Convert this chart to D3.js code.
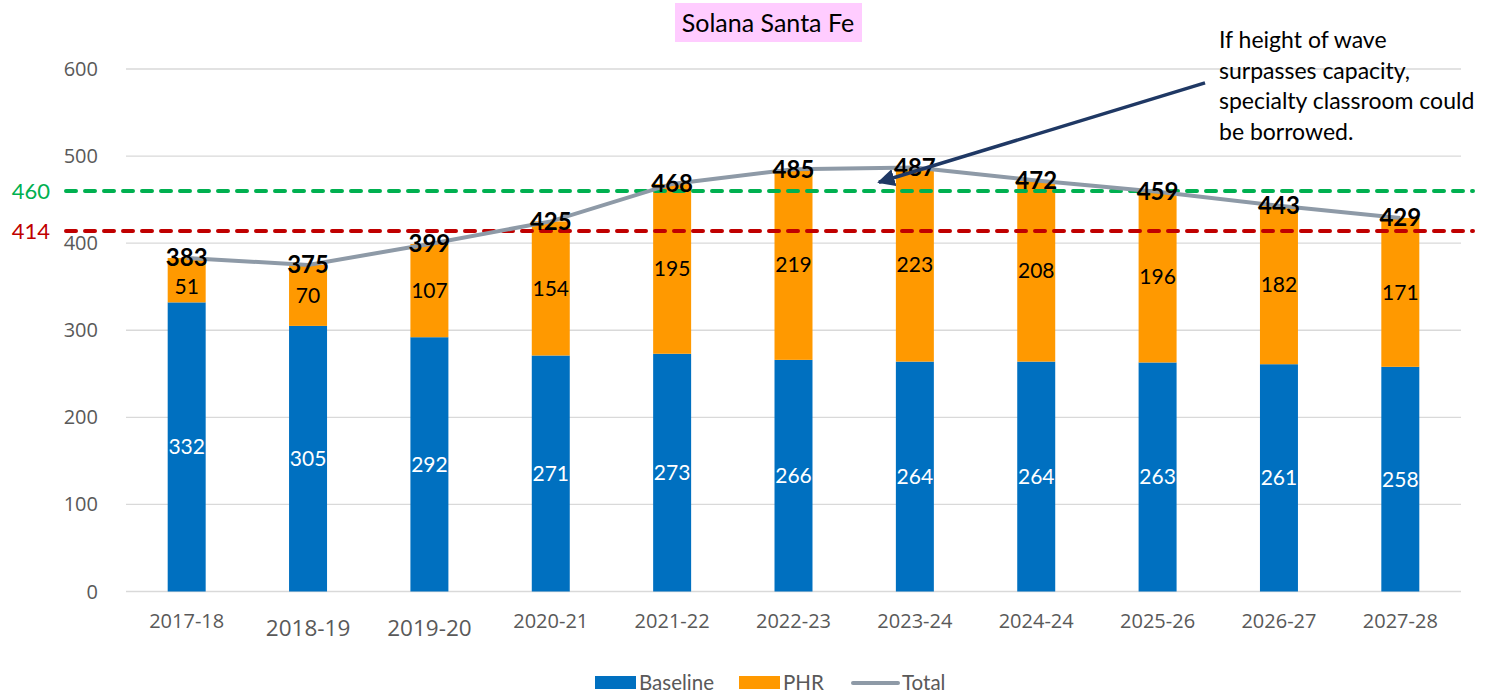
<!DOCTYPE html>
<meta charset="utf-8">
<script src="https://d3js.org/d3.v7.js"></script>
<style>
  body { margin: 0; background: #fff; }
</style>
<svg id="chart" width="1491" height="696"></svg>

<script>
    // data
    var years = ["2017-18", "2018-19", "2019-20", "2020-21", "2021-22", "2022-23",
        "2023-24", "2024-24", "2025-26", "2026-27", "2027-28"];
    var baseline = [332, 305, 292, 271, 273, 266, 264, 264, 263, 261, 258];
    var phr = [51, 70, 107, 154, 195, 219, 223, 208, 196, 182, 171];
    var total = [383, 375, 399, 425, 468, 485, 487, 472, 459, 443, 429];
    var yTicks = [0, 100, 200, 300, 400, 500, 600];
    var refLines = [
        { value: 460, color: "#00b050" },
        { value: 414, color: "#c00000" }
    ];
    var note = ["If height of wave", "surpasses capacity,", "specialty classroom could", "be borrowed."];

    var svg = d3.select("#chart");

    // plot area (window.top is taken, so prefix these)
    var pLeft = 126, pRight = 1461, pTop = 69, pBottom = 591.5;
    var sans = "Lato, 'Open Sans', sans-serif";

    var x = d3.scaleBand().domain(years).range([pLeft, pRight]).padding(0);
    var y = d3.scaleLinear().domain([0, 600]).range([pBottom, pTop]);
    var barW = x.bandwidth() * 0.313;
    var cx = d => x(d) + x.bandwidth() / 2;

    // gridlines
    svg.append("g").selectAll("line")
        .data(yTicks)
        .enter().append("line")
        .attr("x1", pLeft).attr("x2", pRight)
        .attr("y1", d => y(d)).attr("y2", d => y(d))
        .attr("stroke", "#d9d9d9")
        .attr("stroke-width", 1.3);

    // y labels
    svg.append("g").selectAll("text")
        .data(yTicks)
        .enter().append("text")
        .attr("x", 98).attr("y", d => y(d))
        .attr("dy", "0.35em")
        .attr("text-anchor", "end")
        .attr("font-family", "'Open Sans', sans-serif")
        .attr("font-size", 20)
        .attr("fill", "#595959")
        .text(d => d);

    // x labels (two of them are a bit bigger in the original)
    svg.append("g").selectAll("text")
        .data(years)
        .enter().append("text")
        .attr("x", d => cx(d))
        .attr("y", (d, i) => (i == 1 || i == 2) ? 636 : 628)
        .attr("text-anchor", "middle")
        .attr("font-family", "'Open Sans', sans-serif")
        .attr("font-size", (d, i) => (i == 1 || i == 2) ? 22.5 : 20)
        .attr("fill", "#595959")
        .text(d => d);

    // stacked bars
    var bars = svg.append("g");
    bars.selectAll("rect.base")
        .data(years)
        .enter().append("rect")
        .attr("class", "base")
        .attr("x", d => cx(d) - barW / 2)
        .attr("width", barW)
        .attr("y", (d, i) => y(baseline[i]))
        .attr("height", (d, i) => y(0) - y(baseline[i]))
        .attr("fill", "#0070c0");
    bars.selectAll("rect.phr")
        .data(years)
        .enter().append("rect")
        .attr("class", "phr")
        .attr("x", d => cx(d) - barW / 2)
        .attr("width", barW)
        .attr("y", (d, i) => y(baseline[i] + phr[i]))
        .attr("height", (d, i) => y(baseline[i]) - y(baseline[i] + phr[i]))
        .attr("fill", "#ff9900");

    // capacity lines
    svg.append("g").selectAll("line")
        .data(refLines)
        .enter().append("line")
        .attr("x1", 66).attr("x2", 1473)
        .attr("y1", d => y(d.value)).attr("y2", d => y(d.value))
        .attr("stroke", d => d.color)
        .attr("stroke-width", 4)
        .attr("stroke-dasharray", "10,9")
        .attr("stroke-linecap", "round");
    svg.append("g").selectAll("text")
        .data(refLines)
        .enter().append("text")
        .attr("x", 50).attr("y", d => y(d.value))
        .attr("dy", "0.35em")
        .attr("text-anchor", "end")
        .attr("font-family", sans)
        .attr("font-size", 22)
        .attr("fill", d => d.color)
        .text(d => d.value);

    // total line
    var line = d3.line()
        .x((d, i) => cx(years[i]))
        .y(d => y(d));
    svg.append("path")
        .datum(total)
        .attr("d", line)
        .attr("fill", "none")
        .attr("stroke", "#8e9aa7")
        .attr("stroke-width", 4);

    // segment labels
    svg.append("g").selectAll("text")
        .data(years)
        .enter().append("text")
        .attr("x", d => cx(d))
        .attr("y", (d, i) => y(baseline[i] / 2))
        .attr("dy", "0.35em")
        .attr("text-anchor", "middle")
        .attr("font-family", sans)
        .attr("font-size", 21)
        .attr("fill", "#fff")
        .text((d, i) => baseline[i]);
    svg.append("g").selectAll("text")
        .data(years)
        .enter().append("text")
        .attr("x", d => cx(d))
        .attr("y", (d, i) => y(baseline[i] + phr[i] / 2) + (i == 0 ? 6 : 0))
        .attr("dy", "0.35em")
        .attr("text-anchor", "middle")
        .attr("font-family", sans)
        .attr("font-size", 21)
        .attr("fill", "#000")
        .text((d, i) => phr[i]);
    svg.append("g").selectAll("text")
        .data(years)
        .enter().append("text")
        .attr("x", d => cx(d))
        .attr("y", (d, i) => y(total[i]))
        .attr("dy", "0.35em")
        .attr("text-anchor", "middle")
        .attr("font-family", sans)
        .attr("font-weight", "bold")
        .attr("font-size", 24)
        .attr("fill", "#000")
        .text((d, i) => total[i]);

    // title
    svg.append("rect")
        .attr("x", 675).attr("y", 3)
        .attr("width", 187).attr("height", 39)
        .attr("fill", "#ffccff");
    svg.append("text")
        .attr("x", 768).attr("y", 23)
        .attr("dy", "0.35em")
        .attr("text-anchor", "middle")
        .attr("font-family", sans)
        .attr("font-size", 25)
        .attr("fill", "#000")
        .text("Solana Santa Fe");

    // annotation
    svg.append("defs").append("marker")
        .attr("id", "head")
        .attr("viewBox", "0 0 10 10")
        .attr("refX", 9).attr("refY", 5)
        .attr("markerWidth", 5).attr("markerHeight", 5)
        .attr("orient", "auto")
        .append("path")
        .attr("d", "M0,0 L10,5 L0,10 z")
        .attr("fill", "#1f3864");
    var ax = cx(years[6]) - 36;
    svg.append("line")
        .attr("x1", 1205).attr("y1", y(584))
        .attr("x2", ax).attr("y2", y(470))
        .attr("stroke", "#1f3864")
        .attr("stroke-width", 3.5)
        .attr("marker-end", "url(#head)");
    svg.append("text")
        .attr("font-family", sans)
        .attr("font-size", 23)
        .attr("fill", "#000")
        .selectAll("tspan")
        .data(note)
        .enter().append("tspan")
        .attr("x", 1219)
        .attr("y", (d, i) => 48 + i * 30.5)
        .text(d => d);

    // legend
    var legend = svg.append("g")
        .attr("font-family", sans)
        .attr("font-size", 20.5)
        .attr("fill", "#595959");
    var items = [
        { name: "Baseline", color: "#0070c0", x: 595, type: "rect" },
        { name: "PHR", color: "#ff9900", x: 739, type: "rect" },
        { name: "Total", color: "#8e9aa7", x: 853, type: "line" }
    ];
    items.forEach(function (it) {
        if (it.type == "rect") {
            legend.append("rect")
                .attr("x", it.x).attr("y", 676)
                .attr("width", 41).attr("height", 13)
                .attr("fill", it.color);
        } else {
            legend.append("line")
                .attr("x1", it.x).attr("x2", it.x + 45)
                .attr("y1", 683).attr("y2", 683)
                .attr("stroke", it.color)
                .attr("stroke-width", 4)
                .attr("stroke-linecap", "round");
        }
        legend.append("text")
            .attr("x", it.x + (it.type == "rect" ? 44 : 49))
            .attr("y", 683)
            .attr("dy", "0.35em")
            .text(it.name);
    });
</script>
